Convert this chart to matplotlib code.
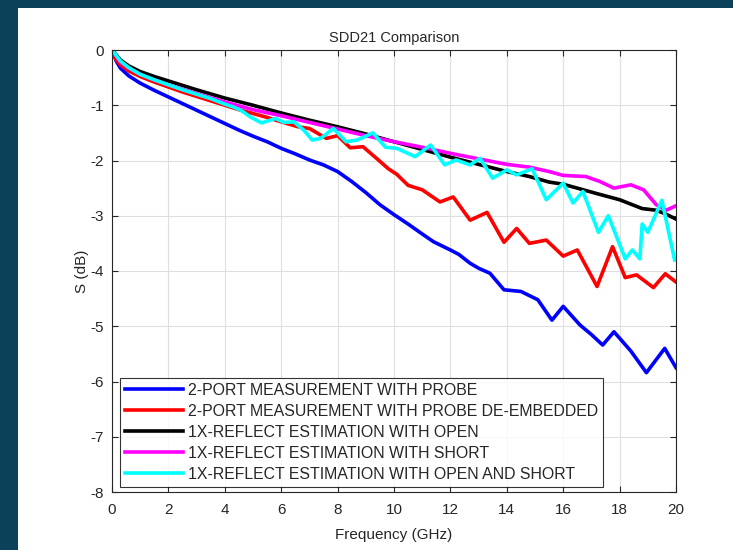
import matplotlib
matplotlib.use("Agg")
import matplotlib.pyplot as plt
from matplotlib.patches import Rectangle

plt.rcParams['font.family'] = ['Liberation Sans', 'DejaVu Sans']

# ---------------- data ----------------
labels = [
    "2-PORT MEASUREMENT WITH PROBE",
    "2-PORT MEASUREMENT WITH PROBE DE-EMBEDDED",
    "1X-REFLECT ESTIMATION WITH OPEN",
    "1X-REFLECT ESTIMATION WITH SHORT",
    "1X-REFLECT ESTIMATION WITH OPEN AND SHORT",
]

f_probe = [0, 0.15, 0.3, 0.6, 1.0, 1.5, 2.0, 2.5, 3.0, 3.5, 4.0, 4.5, 5.0, 5.5, 6.0,
           6.5, 7.0, 7.5, 8.0, 8.5, 9.0, 9.5, 10.0, 10.5, 11.0, 11.4, 12.0, 12.3,
           12.7, 13.0, 13.4, 13.9, 14.5, 15.1, 15.6, 16.0, 16.6, 17.0, 17.4, 17.8,
           18.4, 18.95, 19.6, 20.0]
s_probe = [0, -0.2, -0.33, -0.47, -0.6, -0.73, -0.85, -0.97, -1.09, -1.21, -1.33,
           -1.45, -1.56, -1.66, -1.78, -1.88, -1.99, -2.08, -2.2, -2.38, -2.58, -2.8,
           -2.98, -3.15, -3.33, -3.47, -3.62, -3.7, -3.86, -3.95, -4.04, -4.34, -4.37,
           -4.52, -4.89, -4.64, -4.98, -5.15, -5.34, -5.1, -5.45, -5.84, -5.4, -5.75]

f_deemb = [0, 0.15, 0.3, 0.6, 1.0, 1.5, 2.0, 2.5, 3.0, 3.5, 4.0, 4.5, 5.0, 5.5, 6.0,
           6.6, 7.0, 7.6, 8.0, 8.45, 8.9, 9.4, 9.8, 10.1, 10.5, 11.0, 11.63, 12.1,
           12.7, 13.3, 13.9, 14.35, 14.8, 15.4, 16.0, 16.5, 17.2, 17.75, 18.2, 18.6,
           19.2, 19.62, 20.0]
s_deemb = [0, -0.18, -0.27, -0.38, -0.48, -0.58, -0.67, -0.76, -0.84, -0.92, -1.0,
           -1.08, -1.15, -1.22, -1.3, -1.39, -1.42, -1.6, -1.55, -1.77, -1.75, -1.97,
           -2.15, -2.25, -2.45, -2.53, -2.75, -2.66, -3.08, -2.94, -3.48, -3.23, -3.5,
           -3.44, -3.73, -3.62, -4.28, -3.56, -4.12, -4.07, -4.3, -4.05, -4.2]

f_open = [0, 0.3, 0.6, 1.0, 1.5, 2.0, 3.0, 4.0, 5.0, 6.0, 7.0, 8.0, 9.0, 10.0, 11.0,
          12.0, 13.0, 14.0, 14.8, 15.5, 16.0, 16.5, 17.2, 18.0, 18.8, 19.3, 19.6, 20.0]
s_open = [0, -0.18, -0.29, -0.39, -0.48, -0.56, -0.72, -0.87, -1.0, -1.14, -1.27,
          -1.39, -1.52, -1.66, -1.8, -1.94, -2.07, -2.2, -2.29, -2.39, -2.43, -2.5,
          -2.6, -2.71, -2.87, -2.9, -2.96, -3.06]

f_short = [0, 0.3, 0.6, 1.0, 1.5, 2.0, 3.0, 4.0, 5.0, 6.0, 7.0, 8.0, 9.0, 10.0, 11.0,
           12.0, 13.0, 14.0, 14.8, 15.5, 16.0, 16.8, 17.3, 17.8, 18.4, 18.85, 19.3,
           19.65, 20.0]
s_short = [0, -0.22, -0.33, -0.44, -0.54, -0.63, -0.79, -0.94, -1.08, -1.19, -1.31,
           -1.43, -1.55, -1.66, -1.76, -1.87, -1.97, -2.07, -2.12, -2.2, -2.27, -2.29,
           -2.38, -2.5, -2.44, -2.53, -2.8, -2.9, -2.82]

f_both = [0, 0.3, 0.6, 1.0, 1.5, 2.0, 2.5, 3.0, 3.5, 4.0, 4.3, 4.6, 4.9, 5.3, 5.8,
          6.1, 6.45, 6.8, 7.1, 7.4, 7.85, 8.3, 8.7, 9.25, 9.7, 10.1, 10.75, 11.3,
          11.8, 12.2, 12.7, 13.05, 13.5, 14.0, 14.35, 14.9, 15.4, 16.0, 16.35, 16.7,
          17.25, 17.6, 18.2, 18.45, 18.72, 18.8, 19.0, 19.5, 19.95]
s_both = [0, -0.2, -0.32, -0.44, -0.54, -0.63, -0.72, -0.8, -0.88, -0.98, -1.03,
          -1.1, -1.21, -1.32, -1.24, -1.31, -1.3, -1.45, -1.63, -1.6, -1.42, -1.66,
          -1.63, -1.5, -1.76, -1.78, -1.93, -1.72, -2.08, -1.99, -2.08, -1.96, -2.32,
          -2.17, -2.26, -2.15, -2.71, -2.41, -2.77, -2.56, -3.3, -3.0, -3.78, -3.62,
          -3.78, -3.15, -3.3, -2.72, -3.8]

colors = ["#0000ff", "#ff0000", "#000000", "#ff00ff", "#00ffff"]
series = [(f_probe, s_probe), (f_deemb, s_deemb), (f_open, s_open),
          (f_short, s_short), (f_both, s_both)]

xticks = list(range(0, 21, 2))
yticks = list(range(-8, 1))

# ---------------- figure ----------------
fig = plt.figure(figsize=(7.33, 5.5), dpi=100, facecolor="white")
# dark frame strips (left & top)
fig.patches.append(Rectangle((0, 0), 18 / 733, 1, transform=fig.transFigure,
                             facecolor="#0b4259", edgecolor="none", zorder=0))
fig.patches.append(Rectangle((0, 1 - 8 / 550), 1, 8 / 550, transform=fig.transFigure,
                             facecolor="#0b4259", edgecolor="none", zorder=0))

ax = fig.add_axes([112 / 733, 1 - 492 / 550, 564 / 733, 442 / 550])

for (fx, sy), c, lab in zip(series, colors, labels):
    ax.plot(fx, sy, color=c, lw=2.6, label=lab, solid_joinstyle="round")

ax.set_xlim(0, 20)
ax.set_ylim(-8, 0)
ax.set_xticks(xticks)
ax.set_yticks(yticks)
ax.set_yticklabels([str(v) if v == 0 else "-%d" % abs(v) for v in yticks])
ax.grid(True, color="#dfdfdf", lw=0.8)
ax.set_axisbelow(True)
ax.tick_params(direction="in", length=4, width=0.8, colors="#262626",
               labelsize=11, top=True, right=True)
ax.tick_params(axis="x", pad=8)
ax.tick_params(axis="y", pad=6)
for sp in ax.spines.values():
    sp.set_color("#262626")
    sp.set_linewidth(0.8)

ax.set_title("SDD21 Comparison", fontsize=10.5, color="#262626", pad=6)
ax.set_xlabel("Frequency (GHz)", fontsize=11, color="#262626", labelpad=8)
ax.set_ylabel("S (dB)", fontsize=11, color="#262626", labelpad=1)

leg = ax.legend(loc="lower left", bbox_to_anchor=(0.014, 0.012), fontsize=11.4,
                frameon=True, fancybox=False, edgecolor="#000000",
                handlelength=3.7, handletextpad=0.3, labelspacing=0.38,
                borderpad=0.3, borderaxespad=0)
leg.get_frame().set_linewidth(0.8)
for t in leg.get_texts():
    t.set_color("#262626")

fig.savefig("out.png", dpi=100, facecolor=fig.get_facecolor())
